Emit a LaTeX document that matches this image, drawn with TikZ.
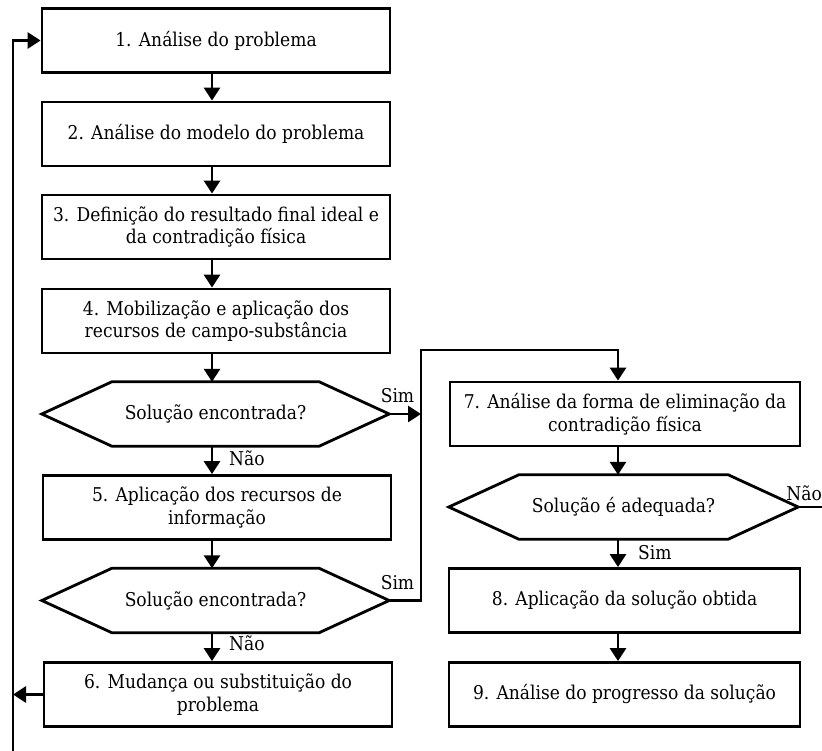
\documentclass[tikz,border=0pt]{standalone}
\usepackage{fontspec}
\setmainfont{DejaVu Serif Condensed}
\usetikzlibrary{arrows.meta,calc}
\begin{document}
\begin{tikzpicture}[x=1pt,y=-1pt,
  txt/.style={font=\fontsize{19}{22.5}\selectfont},
  box/.style={txt, draw, line width=2.8pt, minimum width=348pt, minimum height=64pt, align=center, inner sep=0pt},
  hexnode/.style={txt, minimum width=347pt, minimum height=64pt, align=center, inner sep=0pt},
  hexline/.style={line width=2.8pt, line join=miter},
  conn/.style={line width=2.8pt, -{Triangle[length=13pt,width=16pt]}},
  plain/.style={line width=2.8pt},
  lbl/.style={txt, inner sep=0pt}]
\useasboundingbox (0,0) rectangle (822,751);

% left column
\node[box] (b1) at (216,40.5) {1. Análise do problema};
\node[box] (b2) at (216,134) {2. Análise do modelo do problema};
\node[box] (b3) at (216,227) {3. Definição do resultado final ideal e\\da contradição física};
\node[box] (b4) at (216,321) {4. Mobilização e aplicação dos\\recursos de campo-substância};
\node[hexnode] (h1) at (215.5,414) {Solução encontrada?};
\node[box] (b5) at (217,507.5) {5. Aplicação dos recursos de\\informação};
\node[hexnode] (h2) at (215.5,600.5) {Solução encontrada?};
\node[box] (b6) at (218,694.5) {6. Mudança ou substituição do\\problema};

% right column
\node[box, minimum width=350pt] (b7) at (625,414) {7. Análise da forma de eliminação da\\contradição física};
\node[hexnode, minimum width=349pt] (h3) at (623.5,507) {Solução é adequada?};
\node[box, minimum width=351pt] (b8) at (624.5,600.5) {8. Aplicação da solução obtida};
\node[box, minimum width=351pt] (b9) at (624.5,694.5) {9. Análise do progresso da solução};

% hexagon outlines
\foreach \h in {h1,h2,h3}{
  \draw[hexline] (\h.west) -- ([xshift=70pt]\h.north west) -- ([xshift=-70pt]\h.north east)
    -- (\h.east) -- ([xshift=-70pt]\h.south east) -- ([xshift=70pt]\h.south west) -- cycle;
}

% helper coordinates
\coordinate (al) at (212,0);
\coordinate (ar) at (618,0);
\coordinate (jt) at (421,350);
\coordinate (jr) at (618,350);
\coordinate (lb) at (13,751);
\coordinate (ne) at (822,507);

% left column arrows
\draw[conn] (b1.south -| al) -- (b2.north -| al);
\draw[conn] (b2.south -| al) -- (b3.north -| al);
\draw[conn] (b3.south -| al) -- (b4.north -| al);
\draw[conn] (b4.south -| al) -- (h1.north -| al);
\draw[conn] (h1.south -| al) -- (b5.north -| al);
\draw[conn] (b5.south -| al) -- (h2.north -| al);
\draw[conn] (h2.south -| al) -- (b6.north -| al);

% yes branches
\draw[conn] (h1.east) -- (h1.east -| jt);
\draw[conn] (h2.east) -| (jt) -- (jr) -- (b7.north -| jr);

% right column arrows
\draw[conn] (b7.south -| ar) -- (h3.north -| ar);
\draw[conn] (h3.south -| ar) -- (b8.north -| ar);
\draw[conn] (b8.south -| ar) -- (b9.north -| ar);
\draw[plain] (h3.east) -- (ne);

% loop back
\draw[conn] (b6.west) -- (b6.west -| lb);
\draw[conn] (lb) -- (lb |- b1.west) -- (b1.west);

% labels
\node[lbl, anchor=west] (n1) at (229,458) {Não};
\node[lbl, anchor=west] (n2) at (229,643) {Não};
\node[lbl] (s1) at (397.5,396) {Sim};
\node[lbl] (s2) at (397.5,583) {Sim};
\node[lbl, anchor=west] (s3) at (638,553) {Sim};
\node[lbl, anchor=east] (n3) at (822,493) {Não};
\end{tikzpicture}
\end{document}
